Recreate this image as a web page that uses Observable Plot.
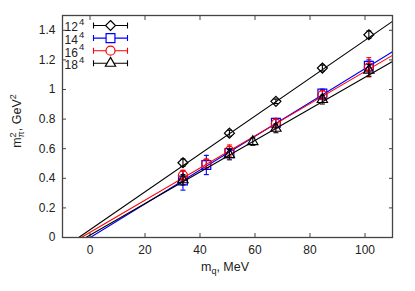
<!DOCTYPE html>
<html><head><meta charset="utf-8">
<script src="https://cdn.jsdelivr.net/npm/d3@7"></script>
<script src="https://cdn.jsdelivr.net/npm/@observablehq/plot@0.6"></script>
<style>
body{margin:0;background:#fff}
#chart svg{font-family:"Liberation Sans",Arial,Helvetica,sans-serif}
</style>
</head><body><div id="chart"></div>
<script>
// ---- data ----
const mq = [33.8, 42.3, 50.7, 59.2, 67.6, 84.5, 101.4];
const seriesNames = ["12", "14", "16", "18"];
const colors = ["#000000", "#0000ff", "#ff0000", "#000000"];
const symbols = ["diamond2", "square", "circle", "triangle"];
const radii = [4.5, 5, 4.5, 3.8];
const m2_12 = [0.505, null, 0.705, null, 0.92, 1.145, 1.37];
const m2_14 = [0.385, 0.49, 0.57, null, 0.775, 0.972, 1.16];
const m2_16 = [0.42, 0.50, 0.585, null, 0.77, 0.962, 1.15];
const m2_18 = [0.39, null, 0.56, 0.648, 0.738, 0.932, 1.13];
const err_12 = [0.025, null, 0.02, null, 0.015, 0.02, 0.025];
const err_14 = [0.065, 0.065, 0.03, null, 0.03, 0.03, 0.04];
const err_16 = [0.035, 0.03, 0.04, null, 0.03, 0.03, 0.065];
const err_18 = [0.035, null, 0.035, 0.025, 0.03, 0.03, 0.04];
// linear fits m^2 = a + b*mq
const fitA = [0.0525, -0.0011, 0.0348, 0.016];
const fitB = [0.0128, 0.01142, 0.01087, 0.01067];
const xTicks = [0, 20, 40, 60, 80, 100];
const yTicks = [0, 0.2, 0.4, 0.6, 0.8, 1, 1.2, 1.4];
const xDomain = [-10, 110];
const yDomain = [0, 1.5];

// ---- build tables ----
const vals = [m2_12, m2_14, m2_16, m2_18];
const errs = [err_12, err_14, err_16, err_18];
const rows = [];
vals.forEach((v, i) => v.forEach((y, j) => {
  if (y != null) rows.push({s: i, x: mq[j], y, lo: y - errs[i][j], hi: y + errs[i][j]});
}));
const fits = [];
fitA.forEach((a, i) => {
  const b = fitB[i];
  fits.push({s: i, x: -a / b, y: 0});
  fits.push({s: i, x: xDomain[1], y: a + b * xDomain[1]});
});

const cap = {draw(ctx) { ctx.moveTo(-2.5, 0); ctx.lineTo(2.5, 0); }};
const legendBar = {draw(ctx) {
  ctx.moveTo(-17, 0); ctx.lineTo(17, 0);
  ctx.moveTo(-17, -3); ctx.lineTo(-17, 3);
  ctx.moveTo(17, -3); ctx.lineTo(17, 3);
}};

const marks = [];
seriesNames.forEach((name, i) => {
  const d = rows.filter(r => r.s === i);
  const f = fits.filter(r => r.s === i);
  marks.push(Plot.line(f, {x: "x", y: "y", stroke: colors[i], strokeWidth: 1.1}));
  marks.push(Plot.ruleX(d, {x: "x", y1: "lo", y2: "hi", stroke: colors[i], strokeWidth: 1.1}));
  marks.push(Plot.dot(d, {x: "x", y: "lo", symbol: cap, stroke: colors[i], strokeWidth: 1.1}));
  marks.push(Plot.dot(d, {x: "x", y: "hi", symbol: cap, stroke: colors[i], strokeWidth: 1.1}));
  marks.push(Plot.dot(d, {x: "x", y: "y", symbol: symbols[i], r: radii[i], stroke: colors[i], fill: "none", strokeWidth: 1.2}));
  // legend
  const dy = 10 + 12.6 * i;
  marks.push(Plot.dot([name], {frameAnchor: "top-left", dx: 48, dy, symbol: legendBar, stroke: colors[i], strokeWidth: 1.1}));
  marks.push(Plot.dot([name], {frameAnchor: "top-left", dx: 48, dy, symbol: symbols[i], r: radii[i], stroke: colors[i], fill: "white", strokeWidth: 1.2}));
  marks.push(Plot.text([name], {text: d => d, frameAnchor: "top-left", dx: 2, dy: dy + 2, textAnchor: "start", lineAnchor: "middle", fontSize: 12, fill: "#222"}));
  marks.push(Plot.text(["4"], {text: d => d, frameAnchor: "top-left", dx: 16.5, dy: dy - 3.5, textAnchor: "start", lineAnchor: "middle", fontSize: 9.5, fill: "#222"}));
});

const fmt = d => String(+d.toFixed(1));
const chart = Plot.plot({
  width: 415, height: 291,
  marginLeft: 62, marginRight: 23, marginTop: 15, marginBottom: 54,
  style: {fontSize: "12px", fontFamily: "'Liberation Sans', Arial, sans-serif", color: "#222", background: "white"},
  x: {domain: xDomain},
  y: {domain: yDomain},
  marks: [
    Plot.axisX({ticks: xTicks, tickSize: -4, tickPadding: 12, tickFormat: fmt, label: null, stroke: "#444"}),
    Plot.axisX({anchor: "top", ticks: xTicks, tickSize: -4, tickFormat: () => "", label: null, stroke: "#444"}),
    Plot.axisY({ticks: yTicks, tickSize: -4, tickPadding: 11, tickFormat: fmt, label: null, stroke: "#444"}),
    Plot.axisY({anchor: "right", ticks: yTicks, tickSize: -4, tickFormat: () => "", label: null, stroke: "#444"}),
    ...marks,
    Plot.frame({stroke: "#444", strokeWidth: 1.3})
  ]
});
document.getElementById("chart").append(chart);

// axis titles with sub/superscripts
const svg = d3.select(chart);
const xl = svg.append("text").attr("x", 225).attr("y", 271).attr("text-anchor", "middle")
  .attr("font-size", 12.5).attr("fill", "#222");
xl.append("tspan").text("m");
xl.append("tspan").attr("dy", 3).attr("font-size", 9).text("q");
xl.append("tspan").attr("dy", -3).text(", MeV");

const yl = svg.append("text").attr("transform", "translate(21,121) rotate(-90)").attr("text-anchor", "middle")
  .attr("font-size", 12.5).attr("fill", "#222");
yl.append("tspan").text("m");
yl.append("tspan").attr("dy", -5).attr("font-size", 9).text("2");
yl.append("tspan").attr("dx", -5).attr("dy", 8).attr("font-size", 9).text("π");
yl.append("tspan").attr("dy", -3).text(", GeV");
yl.append("tspan").attr("dy", -5).attr("font-size", 9).text("2");
</script>
</body></html>
